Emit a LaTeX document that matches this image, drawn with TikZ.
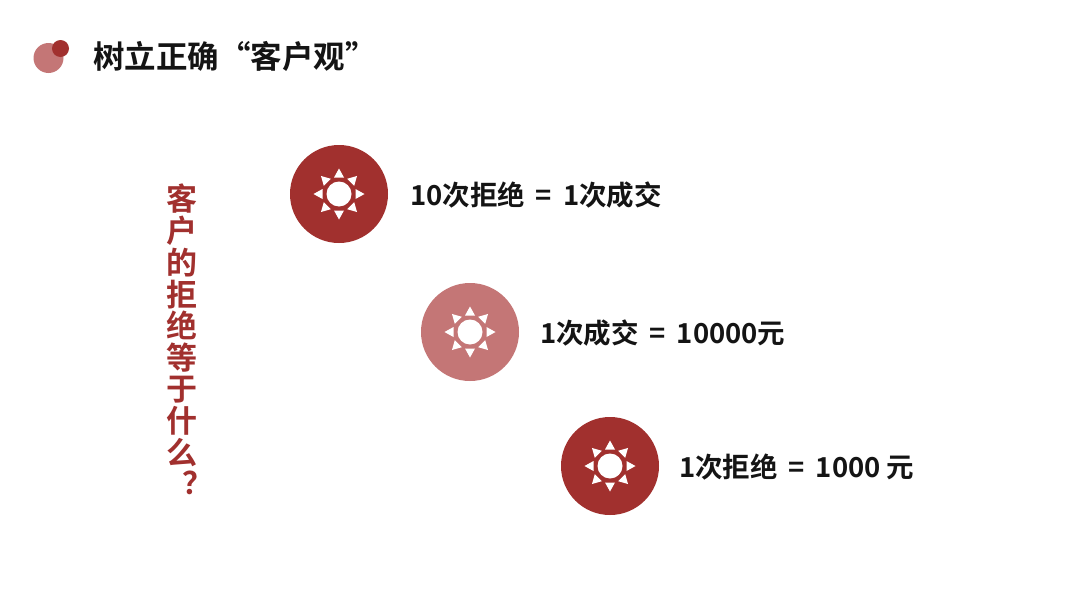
\documentclass[tikz,border=0pt]{standalone}
\usepackage{fontspec}
\setmainfont{Noto Sans CJK SC}[BoldFont={* Bold}]
\definecolor{dark}{RGB}{161,48,46}
\definecolor{light}{RGB}{196,118,118}
\definecolor{ink}{RGB}{20,20,20}
\tikzset{
  disc/.style={circle,draw=none,inner sep=0pt,minimum size=98pt},
  lab/.style={anchor=west,inner sep=0pt,text=ink,font=\fontsize{27.5}{32}\selectfont\bfseries},
  vch/.style={inner sep=0pt,text=dark,font=\fontsize{31}{32}\selectfont\bfseries},
  ray/.style={fill=white,draw=none},
  pics/sunicon/.style={code={
    \fill[white] (0,0) circle (12.5);
    \foreach \a in {0,45,...,315}{
      \fill[ray,rotate=\a] (16.5,-5) -- (25.5,0) -- (16.5,5) -- cycle;
    }
  }}
}
\begin{document}
\begin{tikzpicture}[x=1pt,y=-1pt]
\useasboundingbox (0,0) rectangle (1080,608);
\fill[white] (0,0) rectangle (1080,608);
% title bullet
\node[circle,fill=light,inner sep=0pt,minimum size=30pt] (b1) at (48.5,58) {};
\node[circle,fill=dark,inner sep=0pt,minimum size=17pt] (b2) at (60.5,48.5) {};
\node[anchor=west,inner sep=0pt,text=ink,font=\fontsize{31.5}{36}\selectfont\bfseries] (title) at (93,56.5) {树立正确“客户观”};
% vertical text
\foreach \c [count=\i from 0] in {客,户,的,拒,绝,等,于,什,么}{
  \node[vch] (v\i) at (182,{199+31.7*\i}) {\c};
}
\node[vch] (v9) at (198,483) {？};
% discs
\node[disc,fill=dark] (d1) at (339,194) {};
\node[disc,fill=light] (d2) at (470,332) {};
\node[disc,fill=dark] (d3) at (610,466) {};
\pic at (d1) {sunicon};
\pic at (d2) {sunicon};
\pic at (d3) {sunicon};
% labels
\node[lab] (t1) at (410,195) {10次拒绝 \,=\, 1次成交};
\node[lab] (t2) at (540,333) {1次成交 \,=\, 10000元};
\node[lab] (t3) at (679,467) {1次拒绝 \,=\, 1000 元};
\end{tikzpicture}
\end{document}
